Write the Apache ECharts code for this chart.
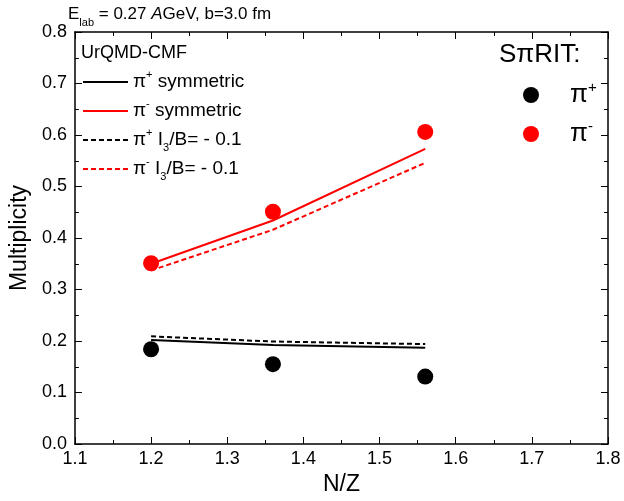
<!DOCTYPE html>
<html><head><meta charset="utf-8">
<script src="https://cdn.jsdelivr.net/npm/echarts@6/dist/echarts.min.js"></script>
<style>html,body{margin:0;padding:0;background:#fff}#c{width:624px;height:501px}</style>
</head><body><div id="c"></div>
<script>
// N/Z values
const nz = [1.2, 1.36, 1.56];
// UrQMD-CMF model lines
const piPlusSym = [0.202, 0.192, 0.187];
const piMinusSym = [0.350, 0.434, 0.573];
const piPlusI3 = [0.209, 0.199, 0.194];
const piMinusI3 = [0.337, 0.416, 0.546];
// S-pi-RIT data
const expPiPlus = [0.184, 0.155, 0.131];
const expPiMinus = [0.351, 0.451, 0.606];
// axis ticks
const xTicks = [1.1, 1.2, 1.3, 1.4, 1.5, 1.6, 1.7, 1.8];
const yTicks = [0.0, 0.1, 0.2, 0.3, 0.4, 0.5, 0.6, 0.7, 0.8];

const FONT = '"Liberation Sans", Arial, sans-serif';
const pts = (ys) => nz.map((x, i) => [x, ys[i]]);

const legendNames = {
  a: 'π{sup|+} symmetric',
  b: 'π{sup|-} symmetric',
  c: 'π{sup|+} I{sub|3}/B= - 0.1',
  d: 'π{sup|-} I{sub|3}/B= - 0.1',
  p: 'π{bsup|+}',
  m: 'π{bsup|-}'
};

const chart = echarts.init(document.getElementById('c'), null, {renderer: 'canvas'});

const baseAxisX = {
  type: 'value', min: xTicks[0], max: xTicks[xTicks.length - 1], interval: 0.1,
  splitLine: {show: false},
  axisLine: {show: true, onZero: false, lineStyle: {color: '#000', width: 1.5}},
  axisTick: {show: true, inside: true, length: 7, lineStyle: {color: '#000', width: 1}},
  minorTick: {show: true, splitNumber: 2, length: 4, lineStyle: {color: '#000', width: 1}}
};
const baseAxisY = {
  type: 'value', min: yTicks[0], max: yTicks[yTicks.length - 1], interval: 0.1,
  splitLine: {show: false},
  axisLine: {show: true, onZero: false, lineStyle: {color: '#000', width: 1.5}},
  axisTick: {show: true, inside: true, length: 7, lineStyle: {color: '#000', width: 1}},
  minorTick: {show: true, splitNumber: 2, length: 4, lineStyle: {color: '#000', width: 1}}
};

chart.setOption({
  animation: false,
  backgroundColor: '#fff',
  textStyle: {fontFamily: FONT},
  title: [
    {
      text: 'E{sub|lab} = 0.27 {it|A}GeV, b=3.0 fm',
      left: 68, top: 0, padding: 0,
      textStyle: {
        fontFamily: FONT, fontSize: 17, fontWeight: 'normal', color: '#000', lineHeight: 28,
        rich: {
          sub: {fontFamily: FONT, fontSize: 11, verticalAlign: 'bottom', lineHeight: 13, color: '#000'},
          it: {fontFamily: FONT, fontSize: 17, fontStyle: 'italic', color: '#000'}
        }
      }
    },
    {
      text: 'UrQMD-CMF', left: 81, top: 44, padding: 0,
      textStyle: {fontFamily: FONT, fontSize: 18, fontWeight: 'normal', color: '#000'}
    },
    {
      text: 'SπRIT:', left: 499, top: 42, padding: 0,
      textStyle: {fontFamily: FONT, fontSize: 26, fontWeight: 'normal', color: '#000'}
    }
  ],
  grid: {left: 72, right: 16, top: 32, bottom: 57, containLabel: false},
  xAxis: [
    Object.assign({}, baseAxisX, {
      position: 'bottom',
      name: 'N/Z', nameLocation: 'middle', nameGap: 27,
      nameTextStyle: {fontFamily: FONT, fontSize: 23, color: '#000'},
      axisLabel: {show: true, margin: 6, fontFamily: FONT, fontSize: 18, color: '#000',
        formatter: (v) => v.toFixed(1)}
    }),
    Object.assign({}, baseAxisX, {position: 'top', axisLabel: {show: false}})
  ],
  yAxis: [
    Object.assign({}, baseAxisY, {
      position: 'left',
      name: 'Multiplicity', nameLocation: 'middle', nameGap: 38, nameRotate: 90,
      nameTextStyle: {fontFamily: FONT, fontSize: 23, color: '#000'},
      axisLabel: {show: true, margin: 8, fontFamily: FONT, fontSize: 18, color: '#000',
        formatter: (v) => v.toFixed(1)}
    }),
    Object.assign({}, baseAxisY, {position: 'right', axisLabel: {show: false}})
  ],
  legend: [
    {
      data: ['a', 'b', 'c', 'd'],
      orient: 'vertical', left: 77, top: 64,
      itemWidth: 45, itemHeight: 14, itemGap: 3,
      itemStyle: {opacity: 0},
      formatter: (n) => legendNames[n],
      textStyle: {
        fontFamily: FONT, fontSize: 19, color: '#000', lineHeight: 26,
        rich: {
          sup: {fontFamily: FONT, fontSize: 11, verticalAlign: 'top', lineHeight: 12, color: '#000'},
          sub: {fontFamily: FONT, fontSize: 11, verticalAlign: 'bottom', lineHeight: 12, color: '#000'}
        }
      }
    },
    {
      data: ['p', 'm'],
      orient: 'vertical', left: 518, top: 75,
      itemWidth: 16, itemHeight: 16, itemGap: 9,
      formatter: (n) => legendNames[n],
      textStyle: {
        fontFamily: FONT, fontSize: 26, color: '#000', lineHeight: 30, padding: [0, 0, 0, 26],
        rich: {
          bsup: {fontFamily: FONT, fontSize: 15, verticalAlign: 'top', lineHeight: 15, color: '#000'}
        }
      }
    }
  ],
  series: [
    {name: 'a', type: 'line', data: pts(piPlusSym), symbol: 'none', color: '#000',
      lineStyle: {color: '#000', width: 2, type: 'solid'}},
    {name: 'b', type: 'line', data: pts(piMinusSym), symbol: 'none', color: '#ff0000',
      lineStyle: {color: '#ff0000', width: 2, type: 'solid'}},
    {name: 'c', type: 'line', data: pts(piPlusI3), symbol: 'none', color: '#000',
      lineStyle: {color: '#000', width: 2, type: [5, 3]}},
    {name: 'd', type: 'line', data: pts(piMinusI3), symbol: 'none', color: '#ff0000',
      lineStyle: {color: '#ff0000', width: 2, type: [5, 3]}},
    {name: 'p', type: 'scatter', data: pts(expPiPlus), symbol: 'circle', symbolSize: 16,
      itemStyle: {color: '#000', opacity: 1}, z: 5},
    {name: 'm', type: 'scatter', data: pts(expPiMinus), symbol: 'circle', symbolSize: 16,
      itemStyle: {color: '#ff0000', opacity: 1}, z: 5}
  ]
});
</script></body></html>
